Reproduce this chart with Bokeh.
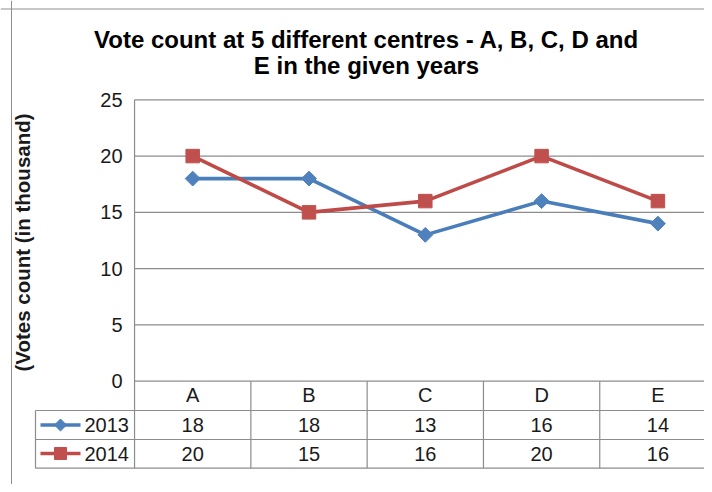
import numpy as np
from bokeh.plotting import figure
from bokeh.models import Range1d, Span
from bokeh.core.properties import value
from bokeh.embed import file_html
from bokeh.resources import INLINE

# ---- data ----
centres = ["A", "B", "C", "D", "E"]
years = ["2013", "2014"]
votes_2013 = [18, 18, 13, 16, 14]
votes_2014 = [20, 15, 16, 20, 16]
y_ticks = [0, 5, 10, 15, 20, 25]
title_lines = ["Vote count at 5 different centres - A, B, C, D and", "E in the given years"]
y_label = "(Votes count (in thousand)"

# ---- layout helpers (image pixel -> data units) ----
W = 116.3      # px per category
H = 11.256     # px per vote unit
X0 = 192.2     # image x of first category
Y0 = 380.7     # image y of value 0


def px(img_x):
    return (img_x - X0) / W


def py(img_y):
    return (Y0 - img_y) / H


FONT = value("Liberation Sans")
BLUE_L, BLUE_M = "#4A7EBB", "#4F81BD"
RED_L, RED_M = "#BE4B48", "#C0504D"
GRID = "#8c8c8c"
TXT = "#1a1a1a"

p = figure(width=704, height=484, output_backend="svg", toolbar_location=None,
           x_range=Range1d(px(0), px(704)), y_range=Range1d(py(484), py(0)),
           min_border=0, min_border_left=0, min_border_right=0,
           min_border_top=0, min_border_bottom=0)
p.axis.visible = False
p.grid.visible = False
p.outline_line_color = None
p.background_fill_color = "white"
p.border_fill_color = "white"

n = len(centres)
xs = list(range(n))
left_edge = -0.5
right_edge = n - 0.5
tbl_top = 0
tbl_hdr = py(410)
tbl_r1 = py(439)
tbl_bot = py(467.7)

# outer chart border (left and top)
p.add_layout(Span(location=px(11), dimension="height", line_color="#8f8f8f", line_width=1))
p.add_layout(Span(location=py(8.5), dimension="width", line_color="#8f8f8f", line_width=1))

# horizontal gridlines
p.segment(x0=[left_edge] * len(y_ticks), x1=[right_edge] * len(y_ticks),
          y0=y_ticks, y1=y_ticks, line_color=GRID, line_width=1.2)
# plot area left border continuing through the table
p.segment(x0=[left_edge], x1=[left_edge], y0=[max(y_ticks)], y1=[tbl_bot],
          line_color=GRID, line_width=1.2)
# table column separators
col_x = [i + 0.5 for i in range(n)]
p.segment(x0=col_x, x1=col_x, y0=[tbl_top] * n, y1=[tbl_bot] * n,
          line_color=GRID, line_width=1.2)
# legend column left line
p.segment(x0=[px(35)], x1=[px(35)], y0=[tbl_hdr], y1=[tbl_bot], line_color=GRID, line_width=1.2)
# table row lines
row_lines = [tbl_hdr, tbl_r1, tbl_bot]
p.segment(x0=[px(35)] * 3, x1=[right_edge] * 3, y0=row_lines, y1=row_lines,
          line_color=GRID, line_width=1.2)

# series
p.line(xs, votes_2013, line_color=BLUE_L, line_width=3.6)
p.line(xs, votes_2014, line_color=RED_L, line_width=3.6)
p.scatter(xs, votes_2013, marker="square", angle=np.pi / 4, size=10.5,
          fill_color=BLUE_M, line_color=BLUE_M)
p.scatter(xs, votes_2014, marker="square", size=13.5,
          fill_color=RED_M, line_color=RED_M)

# y tick labels
p.text(x=[px(122)] * len(y_ticks), y=y_ticks, text=[str(t) for t in y_ticks],
       text_font=FONT, text_font_size="20px", text_color=TXT,
       text_align="right", text_baseline="middle")

# y axis label
p.text(x=[px(22)], y=[py(242)], text=[y_label], angle=np.pi / 2,
       text_font=FONT, text_font_size="20.5px", text_font_style="bold", text_color=TXT,
       text_align="center", text_baseline="middle")

# title
p.text(x=[px(366), px(366)], y=[py(38.5), py(64.5)], text=title_lines,
       text_font=FONT, text_font_size="24px", text_font_style="bold", text_color="black",
       text_align="center", text_baseline="alphabetic")

# table header (categories)
p.text(x=xs, y=[py(394.5)] * n, text=centres,
       text_font=FONT, text_font_size="20px", text_color=TXT,
       text_align="center", text_baseline="middle")

# table rows
row_y = [py(424.5), py(453)]
p.text(x=xs, y=[row_y[0]] * n, text=[str(v) for v in votes_2013],
       text_font=FONT, text_font_size="20px", text_color=TXT,
       text_align="center", text_baseline="middle")
p.text(x=xs, y=[row_y[1]] * n, text=[str(v) for v in votes_2014],
       text_font=FONT, text_font_size="20px", text_color=TXT,
       text_align="center", text_baseline="middle")

# legend keys in the table
p.segment(x0=[px(40)], x1=[px(80)], y0=[row_y[0]], y1=[row_y[0]], line_color=BLUE_L, line_width=3.6)
p.segment(x0=[px(40)], x1=[px(80)], y0=[row_y[1]], y1=[row_y[1]], line_color=RED_L, line_width=3.6)
p.scatter([px(60)], [row_y[0]], marker="square", angle=np.pi / 4, size=8.5,
          fill_color=BLUE_M, line_color=BLUE_M)
p.scatter([px(60)], [row_y[1]], marker="square", size=12,
          fill_color=RED_M, line_color=RED_M)
p.text(x=[px(84)] * 2, y=row_y, text=years,
       text_font=FONT, text_font_size="20px", text_color=TXT,
       text_align="left", text_baseline="middle")

open("out.html", "w").write(file_html(p, INLINE))
